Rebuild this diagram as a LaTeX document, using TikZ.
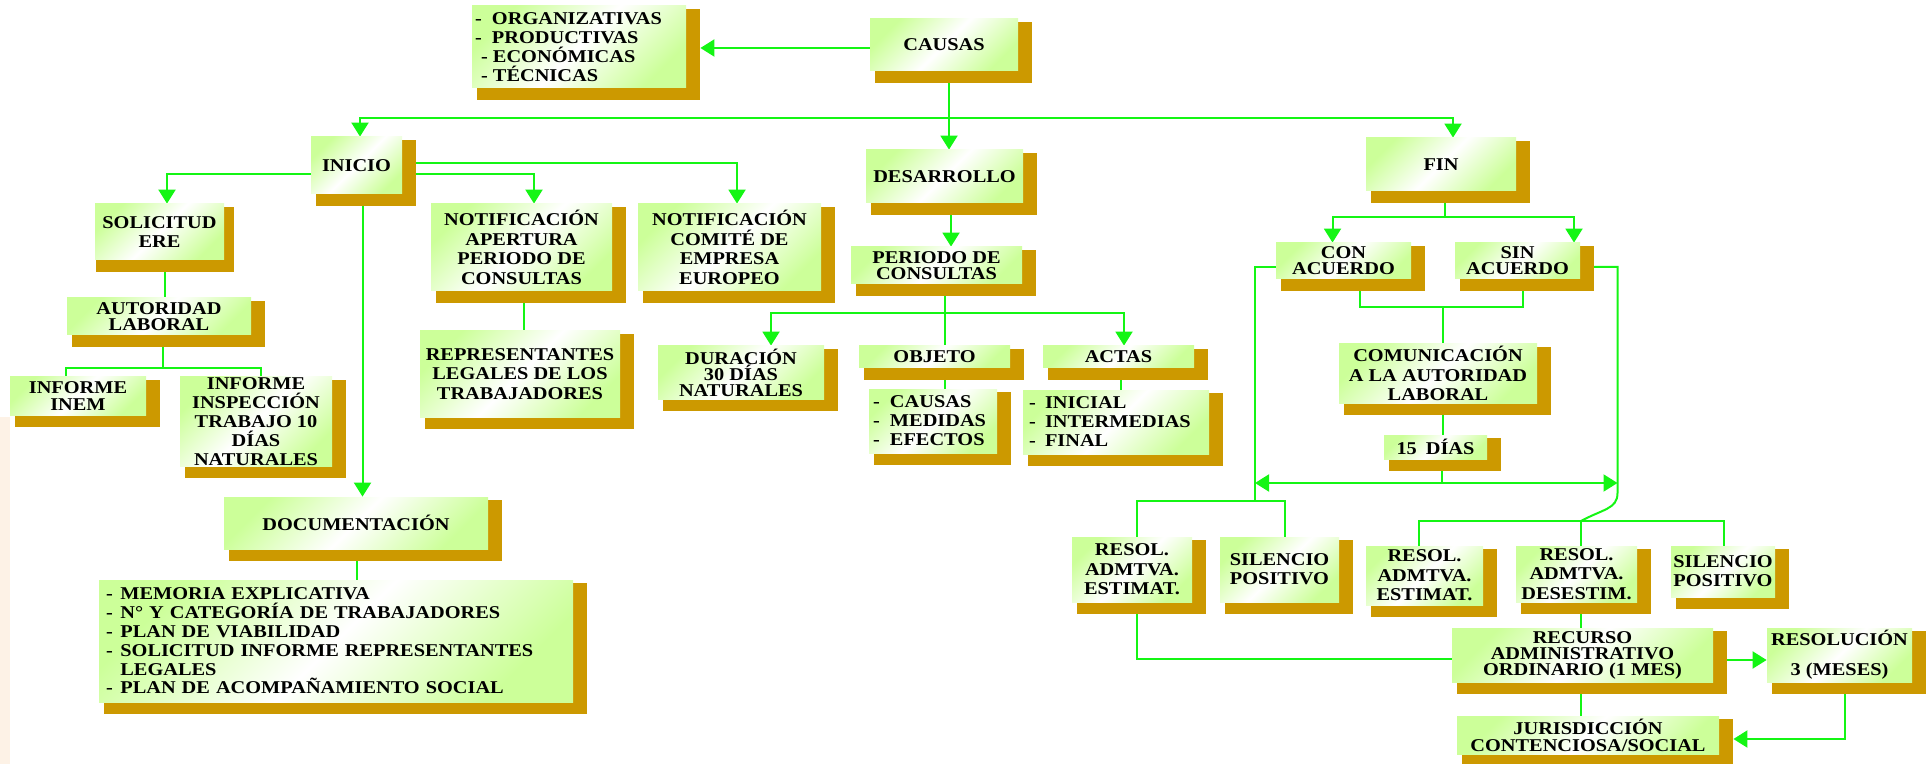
\documentclass[tikz,border=0pt]{standalone}
\usepackage{fontspec}
\setmainfont{Liberation Serif}[FakeStretch=1.13]
\usetikzlibrary{arrows.meta,calc}
\definecolor{gold}{RGB}{204,153,0}
\definecolor{lgr}{RGB}{204,255,153}
\definecolor{lnk}{RGB}{20,245,20}
\definecolor{peach}{RGB}{253,242,230}
\pgfdeclarelayer{background}
\pgfsetlayers{background,main}
\newcommand\li[1]{\makebox[#1][l]{-}}
\newcommand\gbox[7][]{%
  \fill[gold] ({#3+5},{#4+3}) rectangle ({#5+14},{#6+12});
  \node[gnode,minimum width={(#5-#3)*0.5pt},minimum height={(#6-#4)*0.5pt},#1] (#2) at ({(#3+#5)/2},{(#4+#6)/2}) {#7};}
\begin{document}
\begin{tikzpicture}[x=0.5pt,y=-0.5pt,
  gnode/.style={top color=lgr,bottom color=lgr,middle color=white,shading angle=45,
    inner sep=0pt,align=center,text=black,font=\fontsize{9}{9.8}\selectfont\bfseries},
  t75/.style={font=\fontsize{9}{8}\selectfont\bfseries},
  t8/.style={font=\fontsize{9}{8.2}\selectfont\bfseries},
  t85/.style={font=\fontsize{9}{8.6}\selectfont\bfseries},
  t95/.style={font=\fontsize{9}{9.5}\selectfont\bfseries},
  gl/.style={draw=lnk,line width=1pt},
  arr/.style={-{Triangle[width=8.5pt,length=7pt]}},
  arrtwo/.style={{Triangle[width=8.5pt,length=7pt]}-{Triangle[width=8.5pt,length=7pt]}}]
\useasboundingbox (0,0) rectangle (1931,764);
\fill[peach] (0,417) rectangle (10,764);

% boxes
\gbox[align=left,text width=104pt,inner xsep=1.5pt,t95]{causasl}{472}{6}{686}{88}{\li{8.5pt}ORGANIZATIVAS\\ \li{8.5pt}PRODUCTIVAS\\ \hspace*{3pt}\li{6pt}ECONÓMICAS\\ \hspace*{3pt}\li{6pt}TÉCNICAS}
\gbox{causas}{870}{19}{1018}{71}{CAUSAS}
\gbox{inicio}{311}{137}{402}{194}{INICIO}
\gbox{desarrollo}{866}{150}{1023}{203}{DESARROLLO}
\gbox{fin}{1366}{138}{1516}{191}{FIN}
\gbox[xshift=2pt]{solicitud}{91}{204}{220}{260}{SOLICITUD\\ERE}
\gbox[t8]{autoridad}{67}{298}{251}{335}{AUTORIDAD\\LABORAL}
\gbox[t85]{inem}{10}{377}{146}{415}{INFORME\\INEM}
\gbox[t95]{inspeccion}{180}{377}{332}{466}{INFORME\\INSPECCIÓN\\TRABAJO 10\\DÍAS\\NATURALES}
\gbox{notifap}{431}{204}{612}{291}{NOTIFICACIÓN\\APERTURA\\PERIODO DE\\CONSULTAS}
\gbox{notifcom}{638}{204}{821}{291}{NOTIFICACIÓN\\COMITÉ DE\\EMPRESA\\EUROPEO}
\gbox{repres}{420}{331}{620}{417}{REPRESENTANTES\\LEGALES DE LOS\\TRABAJADORES}
\gbox[t75]{periodo}{851}{247}{1022}{284}{PERIODO DE\\CONSULTAS}
\gbox[t75]{duracion}{658}{346}{824}{399}{DURACIÓN\\30 DÍAS\\NATURALES}
\gbox{objeto}{859}{346}{1010}{368}{OBJETO}
\gbox{actas}{1043}{346}{1194}{368}{ACTAS}
\gbox[align=left,text width=60pt,inner xsep=2pt,t95]{objlist}{869}{389}{997}{453}{\li{8.5pt}CAUSAS\\ \li{8.5pt}MEDIDAS\\ \li{8.5pt}EFECTOS}
\gbox[align=left,text width=87pt,inner xsep=3pt,t95]{actlist}{1023}{390}{1209}{454}{\li{8pt}INICIAL\\ \li{8pt}INTERMEDIAS\\ \li{8pt}FINAL}
\gbox[t75]{con}{1276}{243}{1411}{279}{CON\\ACUERDO}
\gbox[t75]{sin}{1455}{243}{1580}{279}{SIN\\ACUERDO}
\gbox{comunic}{1339}{344}{1537}{403}{COMUNICACIÓN\\A LA AUTORIDAD\\LABORAL}
\gbox{dias15}{1384}{435}{1487}{459}{15\enspace DÍAS}
\gbox{documentacion}{224}{497}{488}{549}{DOCUMENTACIÓN}
\gbox[align=left,text width=230pt,inner xsep=3.3pt,font=\fontsize{9}{9.4}\selectfont\bfseries]{doclist}{99}{580}{573}{702}{\li{7.2pt}MEMORIA EXPLICATIVA\\ \li{7.2pt}N° Y CATEGORÍA DE TRABAJADORES\\ \li{7.2pt}PLAN DE VIABILIDAD\\ \li{7.2pt}SOLICITUD INFORME REPRESENTANTES\\ \hspace*{7.2pt}LEGALES\\ \li{7.2pt}PLAN DE ACOMPAÑAMIENTO SOCIAL}
\gbox{resol1}{1072}{537}{1192}{602}{RESOL.\\ADMTVA.\\ESTIMAT.}
\gbox[t95]{silencio1}{1220}{537}{1339}{602}{SILENCIO\\POSITIVO}
\gbox{resol2}{1366}{546}{1483}{605}{RESOL.\\ADMTVA.\\ESTIMAT.}
\gbox{desestim}{1516}{546}{1637}{602}{RESOL.\\ADMTVA.\\DESESTIM.}
\gbox[t95]{silencio2}{1671}{546}{1775}{597}{SILENCIO\\POSITIVO}
\gbox[t75]{recurso}{1452}{628}{1713}{682}{RECURSO\\ADMINISTRATIVO\\ORDINARIO (1 MES)}
\gbox[t75]{resolucion}{1767}{628}{1912}{682}{RESOLUCIÓN\\[7pt]3 (MESES)}
\gbox[t85]{jurisd}{1457}{716}{1719}{754}{JURISDICCIÓN\\CONTENCIOSA/SOCIAL}

% connectors
\begin{pgfonlayer}{background}
\coordinate (c2) at ([xshift=7pt]causasl.east);
\coordinate (c2b) at ([yshift=-1.5pt]causas.west);
\draw[gl,arr] (c2b) -- (c2 |- c2b);
\coordinate (c1) at ([xshift=2.5pt]causas.south);
\draw[gl,arr] (c1) -- (c1 |- desarrollo.north);
\coordinate (bus) at (949,118);
\draw[gl,arr] (bus) -| ([xshift=1.75pt]inicio.north);
\draw[gl,arr] (bus) -| ([xshift=6pt]fin.north);
\draw[gl,arr] ([yshift=-4.25pt]inicio.west) -| ([xshift=3.75pt]solicitud.north);
\draw[gl,arr] ([yshift=-4.25pt]inicio.east) -| ([xshift=6.25pt]notifap.north);
\draw[gl,arr] ([yshift=1.25pt]inicio.east) -| ([xshift=3.75pt]notifcom.north);
\coordinate (c3) at ([xshift=3pt]inicio.south);
\draw[gl,arr] (c3) -- (c3 |- documentacion.north);
\coordinate (c4) at ([xshift=2.5pt]solicitud.south);
\draw[gl] (c4) -- (c4 |- autoridad.north);
\coordinate (ja) at (162.5,368);
\draw[gl] (ja |- autoridad.south) -- (ja);
\draw[gl] ([xshift=-6pt]inem.north) |- (ja) -| ([xshift=2.5pt]inspeccion.north);
\coordinate (c5) at ([xshift=1.25pt]notifap.south);
\draw[gl] (c5) -- (c5 |- repres.north);
\coordinate (c6) at ([xshift=3.25pt]desarrollo.south);
\draw[gl,arr] (c6) -- (c6 |- periodo.north);
\coordinate (jp) at (945,313);
\draw[gl] (jp |- periodo.south) -- (jp |- objeto.north);
\draw[gl,arr] (jp) -| ([xshift=15pt]duracion.north);
\draw[gl,arr] (jp) -| ([xshift=2.75pt]actas.north);
\draw[gl] (jp |- objeto.south) -- (jp |- objlist.north);
\coordinate (c7) at ([xshift=1.25pt]actas.south);
\draw[gl] (c7) -- (c7 |- actlist.north);
\coordinate (jf) at (1445,217);
\draw[gl] (jf |- fin.south) -- (jf);
\draw[gl,arr] (jf) -| ([xshift=-5.5pt]con.north);
\draw[gl,arr] (jf) -| ([xshift=28.25pt]sin.north);
\coordinate (jc) at (1443,307);
\draw[gl] ([xshift=8.25pt]con.south) |- (jc) -| ([xshift=2.75pt]sin.south);
\draw[gl] (jc) -- (jc |- comunic.north);
\draw[gl] (jc |- comunic.south) -- (jc |- dias15.north);
\coordinate (jd) at (1442,483);
\draw[gl] (jd |- dias15.south) -- (jd);
\coordinate (lft) at (1255,483);
\coordinate (rgt) at (1617.5,483);
\draw[gl,arrtwo] (lft) -- (rgt);
\coordinate (jl) at (1255,501);
\draw[gl] ([yshift=-3pt]con.west) -| (jl);
\draw[gl] ([xshift=2.5pt]resol1.north) |- (jl) -| ([xshift=2.75pt]silencio1.north);
\coordinate (jr) at (1581,521);
\draw[gl] ([yshift=-3pt]sin.east) -| (rgt) -- ++(0,10) .. controls +(0,16) and +(22,-12) .. (jr);
\draw[gl] ([xshift=-2.75pt]resol2.north) |- (jr) -| ([xshift=0.5pt]silencio2.north);
\draw[gl] (jr) -- (jr |- desestim.north);
\draw[gl] ([xshift=2.5pt]resol1.south) |- ([yshift=-2pt]recurso.west);
\draw[gl] (jr |- desestim.south) -- (jr |- recurso.north);
\draw[gl,arr] ([xshift=7pt,yshift=-2.5pt]recurso.east) -- ([yshift=-2.5pt]resolucion.west);
\draw[gl] (jr |- recurso.south) -- (jr |- jurisd.north);
\draw[gl,arr] ([xshift=2.6pt]resolucion.south) |- ([xshift=7pt,yshift=-2pt]jurisd.east);
\coordinate (c8) at ([xshift=0.5pt]documentacion.south);
\draw[gl] (c8) -- (c8 |- doclist.north);
\end{pgfonlayer}
\end{tikzpicture}
\end{document}
